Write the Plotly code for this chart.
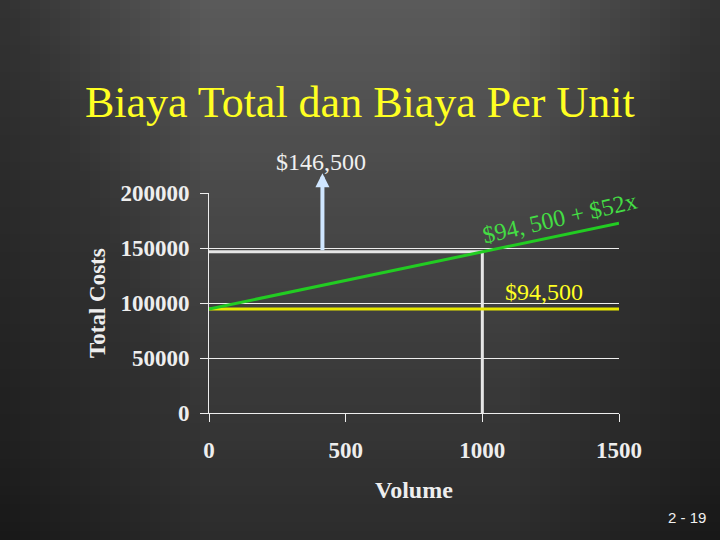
import plotly.graph_objects as go

# Data
volume = [0, 1500]
fixed_cost = [94500, 94500]
total_cost = [94500, 172500]
mark_volume = [0, 1000, 1000]
mark_total = [146500, 146500, 0]
arrow_volume = 415
arrow_from = 146500
arrow_to = 218000
x_ticks = [0, 500, 1000, 1500]
y_ticks = [0, 50000, 100000, 150000, 200000]

L, T, W, H = 209, 193, 410, 220  # plot area in pixels


def px(xp, yp):
    return (xp - L) / W, (T + H - yp) / H


fig = go.Figure()

# background: vertical gradient + darker side edges
shapes = []
n = 60
top = (90, 90, 90)
bot = (44, 44, 44)
for i in range(n):
    t = i / (n - 1)
    c = tuple(int(round(top[k] + (bot[k] - top[k]) * t)) for k in range(3))
    _, y0 = px(0, i * 540 / n)
    _, y1 = px(0, (i + 1) * 540 / n + 1)
    shapes.append(dict(type="rect", xref="paper", yref="paper", layer="below",
                       x0=-1, x1=2, y0=y0, y1=y1,
                       fillcolor="rgb(%d,%d,%d)" % c, line=dict(width=0)))
m = 20
for i in range(m):
    w = 200 * (m - i) / m
    xa, _ = px(0, 0)
    xb, _ = px(w, 0)
    xc, _ = px(720 - w, 0)
    xd, _ = px(720, 0)
    shapes.append(dict(type="rect", xref="paper", yref="paper", layer="below",
                       x0=xa, x1=xb, y0=-1, y1=3, fillcolor="rgba(0,0,0,0.018)", line=dict(width=0)))
    shapes.append(dict(type="rect", xref="paper", yref="paper", layer="below",
                       x0=xc, x1=xd, y0=-1, y1=3, fillcolor="rgba(0,0,0,0.018)", line=dict(width=0)))

fig.add_trace(go.Scatter(x=mark_volume, y=mark_total, mode="lines",
                         line=dict(color="#e6e6e6", width=3), hoverinfo="skip"))
fig.add_trace(go.Scatter(x=volume, y=fixed_cost, mode="lines",
                         line=dict(color="#e8e800", width=3), hoverinfo="skip"))
fig.add_trace(go.Scatter(x=volume, y=total_cost, mode="lines",
                         line=dict(color="#22cc22", width=3), hoverinfo="skip"))

serif = "Liberation Serif, Times New Roman, serif"
fig.add_annotation(x=arrow_volume, y=arrow_to, ax=arrow_volume, ay=arrow_from, xref="x", yref="y",
                   axref="x", ayref="y", showarrow=True, arrowhead=2, arrowsize=0.7, arrowwidth=4,
                   arrowcolor="#cfe6ff", text="")


def label(xp, yp, text, size, color, family=serif, angle=0):
    x, y = px(xp, yp)
    fig.add_annotation(x=x, y=y, xref="paper", yref="paper", text=text, showarrow=False,
                       xanchor="center", yanchor="middle", textangle=angle,
                       font=dict(family=family, size=size, color=color))


label(360, 103, "Biaya Total dan Biaya Per Unit", 44, "#ffff22")
label(321, 162, "$146,500", 24, "#f0f0f0")
label(560, 218, "$94, 500 + $52x", 24, "#44dd44", angle=-13)
label(544, 292, "$94,500", 24, "#ffff22")
label(414, 490, "<b>Volume</b>", 24, "#eeeeee")
label(97, 303, "<b>Total Costs</b>", 23, "#eeeeee", angle=-90)
label(687, 517, "2 - 19", 15, "#f0f0f0", family="Liberation Sans, Arial, sans-serif")

fig.update_layout(
    width=720, height=540,
    margin=dict(l=L, r=720 - L - W, t=T, b=540 - T - H),
    paper_bgcolor="#454545", plot_bgcolor="rgba(0,0,0,0)",
    showlegend=False,
    shapes=shapes,
    font=dict(family=serif, color="#eeeeee"),
)

tf = dict(family=serif, size=23, color="#eeeeee", weight="bold")
fig.update_xaxes(range=[0, 1500], tickvals=x_ticks, ticks="outside", ticklen=8, tickcolor="#eeeeee",
                 showgrid=False, zeroline=False, showline=True, linecolor="#eeeeee", linewidth=1,
                 tickfont=tf, ticklabelstandoff=8)
fig.update_yaxes(range=[0, 200000], tickvals=y_ticks, ticks="outside", ticklen=8, tickcolor="#eeeeee",
                 showgrid=True, gridcolor="#eeeeee", gridwidth=1, zeroline=False, showline=True,
                 linecolor="#eeeeee", linewidth=1, tickformat="d",
                 tickfont=tf, ticklabelstandoff=6)

fig.write_html("out.html", config={"displayModeBar": False},
               post_script="document.body.style.margin='0';document.body.style.background='#454545';")
